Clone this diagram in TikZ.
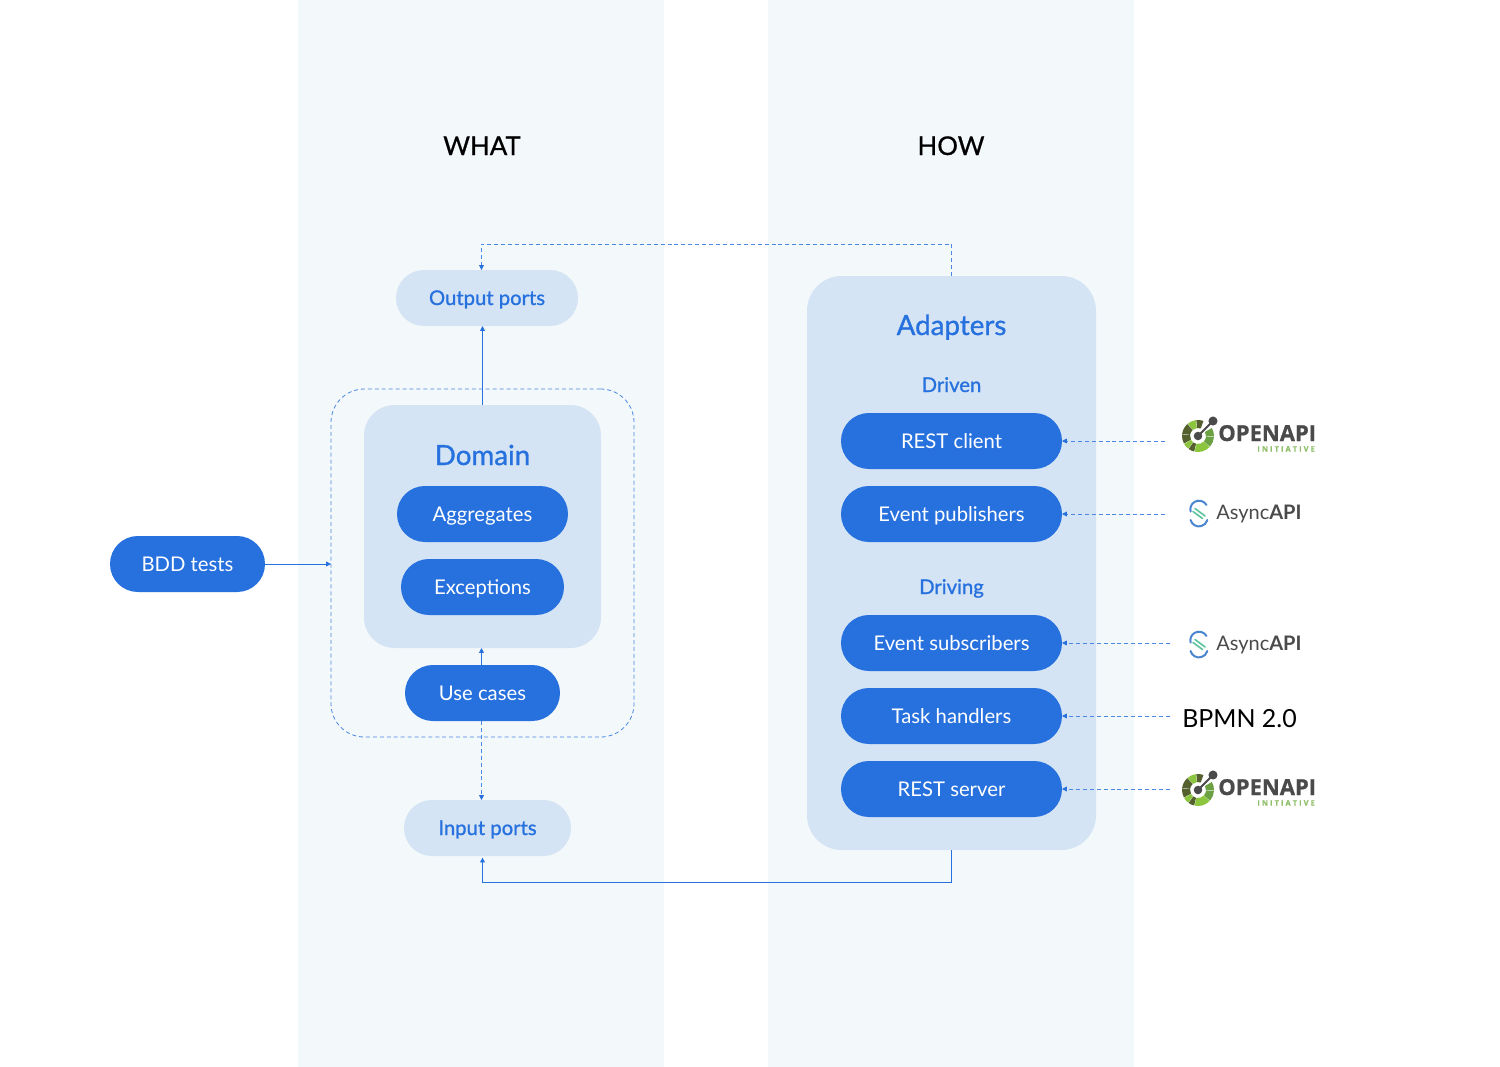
\documentclass[tikz,border=0pt]{standalone}
\usepackage{fontspec}
\setmainfont{Lato}
\newfontfamily\medfont[FakeBold=1]{Lato}
\newfontfamily\headfont[FakeBold=0.7]{Lato}
\newfontfamily\logofont[FakeBold=0.8]{Open Sans}
\usetikzlibrary{arrows.meta,calc}
\definecolor{band}{HTML}{F3F8FB}
\definecolor{soft}{HTML}{D4E4F5}
\definecolor{brand}{HTML}{2771DE}
\definecolor{dashc}{HTML}{4A88E3}
\definecolor{oagrey}{HTML}{4A4A4A}
\definecolor{oadark}{HTML}{55602F}
\definecolor{oamid}{HTML}{6BA043}
\definecolor{oalight}{HTML}{8CC63F}
\definecolor{oatext}{HTML}{8FBF6A}
\definecolor{asblue}{HTML}{4A86D0}
\definecolor{asgreen}{HTML}{5CC49C}
\tikzset{
  pill/.style={rectangle,rounded corners=20.9pt,minimum height=42pt,inner sep=0pt,outer sep=0pt,align=center,text height=11pt,text depth=0.5pt},
  solidpill/.style={pill,fill=brand,text=white,font=\fontsize{15.2}{18}\selectfont},
  softpill/.style={pill,fill=soft,text=brand,font=\medfont\fontsize{15.2}{18}\selectfont},
  panel/.style={rectangle,fill=soft,inner sep=0pt,outer sep=0pt},
  heading/.style={text=black,anchor=base,font=\headfont\fontsize{19.4}{25}\selectfont,inner sep=0pt},
  paneltitle/.style={text=brand,anchor=base,font=\medfont\fontsize{20.8}{24}\selectfont,inner sep=0pt},
  sublabel/.style={text=brand,anchor=base,font=\medfont\fontsize{15.2}{18}\selectfont,inner sep=0pt},
  flow/.style={draw=brand,line width=0.6pt,-{Triangle[length=3.6pt,width=3.6pt]}},
  dashflow/.style={draw=dashc,line width=0.6pt,dash pattern=on 3pt off 2.2pt,-{Triangle[length=3.6pt,width=3.6pt,color=brand]}},
  oaword/.style={inner sep=0pt,anchor=base west,text=oagrey,font=\logofont\fontsize{16.5}{20}\selectfont\bfseries},
  oasub/.style={inner sep=0pt,anchor=base east,text=oatext,font=\logofont\fontsize{5.5}{6}\selectfont\bfseries},
  asword/.style={inner sep=0pt,anchor=base west,text=oagrey,font=\fontsize{15}{20}\selectfont},
}
\newcommand{\oasubtext}{I\hspace{1.6pt}N\hspace{1.6pt}I\hspace{1.6pt}T\hspace{1.6pt}I\hspace{1.6pt}A\hspace{1.6pt}T\hspace{1.6pt}I\hspace{1.6pt}V\hspace{1.6pt}E}
\newcommand{\oaseg}[3]{\fill[#3] (#1:8) arc[start angle=#1,end angle=#2,radius=6pt] -- (#2:16) arc[start angle=#2,end angle=#1,radius=12pt] -- cycle;}
\newcommand{\oalogo}[2]{%
  \begin{scope}[shift={(#1,#2)},x=0.75pt,y=0.75pt]
    \oaseg{-42}{-3}{oamid}
    \oaseg{-1}{30}{oamid}
    \oaseg{98}{130}{oalight}
    \oaseg{70}{96}{oadark}
    \oaseg{132}{172}{oadark}
    \oaseg{174}{208}{oadark}
    \oaseg{210}{232}{oalight}
    \oaseg{234}{256}{oadark}
    \oaseg{258}{316}{oalight}
    \draw[oagrey,line width=1.5pt] (0,0) -- (15,15);
    \fill[oagrey] (0,0) circle[radius=3.2pt];
    \fill[oagrey] (15,15) circle[radius=3.4pt];
  \end{scope}}
\newcommand{\aslogo}[2]{%
  \begin{scope}[shift={(#1,#2)},x=0.75pt,y=0.75pt]
    \draw[asblue,line width=1.5pt,line cap=round] (7.5,8) arc[start angle=30,end angle=195,radius=6.5pt];
    \draw[asblue,line width=1.5pt,line cap=round] (-8.4,-7) arc[start angle=195,end angle=345,radius=6.5pt];
    \draw[asgreen,line width=1.2pt,line cap=round] (-4,4.5) -- (6,-3);
    \draw[asgreen,line width=1.2pt,line cap=round] (-6,1.5) -- (3.5,-5.5);
  \end{scope}}
\begin{document}
\begin{tikzpicture}[x=0.75pt,y=-0.75pt]
\useasboundingbox (0,0) rectangle (1500,1067);
\fill[white] (0,0) rectangle (1500,1067);
\fill[band] (298,0) rectangle (664,1067);
\fill[band] (768,0) rectangle (1134,1067);

\node[heading] (what) at (482,155) {WHAT};
\node[heading] (how) at (951,155) {HOW};

% outer dashed boundary
\node[rectangle,draw=dashc,line width=0.6pt,dash pattern=on 3pt off 2.2pt,rounded corners=25pt,
      minimum width=227.25pt,minimum height=261pt,inner sep=0pt,outer sep=0pt] (core) at (482.5,563) {};

\node[panel,rounded corners=23pt,minimum width=177.75pt,minimum height=182.25pt] (domain) at (482.5,526.5) {};
\node[paneltitle] (domaint) at (482.5,465) {Domain};
\node[solidpill,minimum width=128.25pt] (agg) at (482.5,514) {Aggregates};
\node[solidpill,minimum width=122.25pt] (exc) at (482.5,587) {Exceptions};
\node[solidpill,minimum width=116.25pt] (use) at (482.5,693) {Use cases};

\node[softpill,minimum width=136.5pt] (out) at (487,298) {Output ports};
\node[softpill,minimum width=125.25pt] (inp) at (487.5,828) {Input ports};
\node[solidpill,minimum width=116.25pt] (bdd) at (187.5,564) {BDD tests};

\node[panel,rounded corners=26pt,minimum width=216.75pt,minimum height=430.5pt] (adapters) at (951.5,563) {};
\node[paneltitle] (adaptt) at (951.5,335) {Adapters};
\node[sublabel] (driven) at (951.5,392) {Driven};
\node[sublabel] (driving) at (951.5,594) {Driving};
\node[solidpill,minimum width=165.75pt] (rc) at (951.5,441) {REST client};
\node[solidpill,minimum width=165.75pt] (ep) at (951.5,514) {Event publishers};
\node[solidpill,minimum width=165.75pt] (es) at (951.5,643) {Event subscribers};
\node[solidpill,minimum width=165.75pt] (th) at (951.5,716) {Task handlers};
\node[solidpill,minimum width=165.75pt] (rs) at (951.5,789) {REST server};

% logos
\oalogo{1198}{436}
\node[oaword] (oa1) at (1218,441) {OPENAPI};
\node[oasub] (oa1s) at (1315,451.5) {\oasubtext};
\aslogo{1199}{513}
\node[asword] (as1) at (1216,519) {Async\textbf{API}};
\aslogo{1199}{644}
\node[asword] (as2) at (1216,650) {Async\textbf{API}};
\node[inner sep=0pt,anchor=base west,text=black,font=\fontsize{18.7}{24}\selectfont] (bpmn) at (1182,727) {BPMN 2.0};
\oalogo{1198}{790}
\node[oaword] (oa2) at (1218,795) {OPENAPI};
\node[oasub] (oa2s) at (1315,805.5) {\oasubtext};

% free ends
\coordinate (f1) at (1165,441);
\coordinate (f2) at (1165,514);
\coordinate (f3) at (1170,643);
\coordinate (f4) at (1170,716);
\coordinate (f5) at (1170,789);
\coordinate (topturn) at (951.5,244);
\coordinate (botturn) at (951.5,882);

% connectors
\draw[flow] (bdd.east) -- (bdd.east -| core.west);
\draw[flow] (domain.north) -- (domain.north |- out.south);
\draw[flow] ([xshift=-0.75pt]use.north) -- ([xshift=-0.75pt]use.north |- domain.south);
\draw[dashflow] ([xshift=-0.75pt]use.south) -- ([xshift=-0.75pt]use.south |- inp.north);
\draw[dashflow] (adapters.north) -- (topturn) -| ([xshift=-0.75pt]use.north |- out.north);
\draw[flow,shorten >=1.2pt] (adapters.south) -- (botturn) -| (domain.south |- inp.south);
\draw[dashflow] (f1) -- (rc.east);
\draw[dashflow] (f2) -- (ep.east);
\draw[dashflow] (f3) -- (es.east);
\draw[dashflow] (f4) -- (th.east);
\draw[dashflow] (f5) -- (rs.east);
\end{tikzpicture}
\end{document}
